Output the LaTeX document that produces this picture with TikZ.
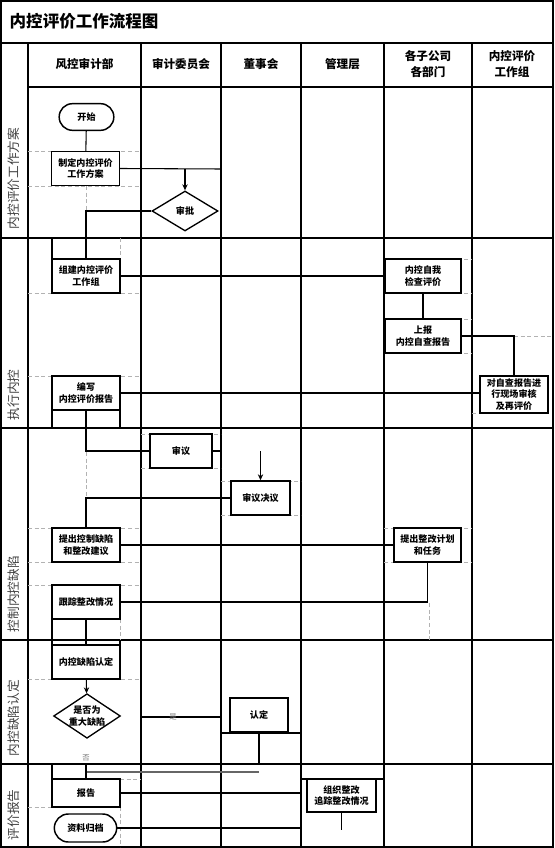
\documentclass[tikz,border=0pt]{standalone}
\usepackage{fontspec}
\newfontfamily\cjk{Noto Sans CJK SC}
\usetikzlibrary{shapes.geometric,shapes.misc,arrows.meta,positioning}
\tikzset{
  pbox/.style={rectangle, draw=black, line width=1.1pt, fill=white,
               minimum width=51pt, minimum height=25.5pt, inner sep=1pt,
               font=\cjk\bfseries\fontsize{6.8}{8.8}\selectfont, align=center},
  pterm/.style={pbox, rounded rectangle, minimum width=43pt, minimum height=20pt},
  pdec/.style={diamond, draw=black, line width=1pt, fill=white, aspect=1.5,
               inner sep=0pt, font=\cjk\bfseries\fontsize{6.8}{8.8}\selectfont, align=center},
  lane/.style={line width=1.1pt},
  link/.style={line width=0.8pt},
  larr/.style={link, -{Stealth[length=4.5pt,width=4pt]}},
  cell/.style={gray!60, line width=0.5pt, dash pattern=on 3pt off 2pt},
  hdr/.style={font=\cjk\bfseries\fontsize{8.7}{12.5}\selectfont, align=center},
  lanelbl/.style={rotate=90, anchor=west, text=black!75,
                  font=\cjk\fontsize{9.5}{10}\selectfont},
  yesno/.style={text=black!55, font=\cjk\fontsize{5.5}{6}\selectfont, inner sep=0pt},
}
\begin{document}
\begin{tikzpicture}[x=0.75pt, y=-0.75pt]
  \useasboundingbox (0,0) rectangle (554,848);

  % frame and swimlanes
  \draw[lane] (1,1) rectangle (553,847);
  \draw[lane] (1,43) -- (553,43);
  \draw[lane] (28,87) -- (553,87);
  \foreach \y in {238,428,640,764} \draw[lane] (1,\y) -- (553,\y);
  \foreach \x in {28,141,221,301,384,472} \draw[lane] (\x,43) -- (\x,847);

  % grey cell lines
  \foreach \xa/\ya/\xb/\yb in {28/151/141/151, 28/186/141/186, 86/186/86/213,
      120/238/120/259, 28/293/141/293, 28/376/141/376,
      384/259/472/259, 384/293/472/293, 384/319/472/319, 384/353/472/353,
      514/336/553/336, 472/413/480/413,
      141/434/221/434, 141/468/221/468, 221/481/301/481, 221/515/301/515,
      86/452/86/498, 28/528/141/528, 28/562/141/562, 384/528/472/528,
      384/562/472/562, 28/585/141/585, 429/603/429/640, 120/619/120/640,
      28/679/141/679, 120/779/141/779, 28/807/52/807, 120/807/120/847}
    \draw[cell] (\xa,\ya) -- (\xb,\yb);
  \foreach \xa/\ya/\xb/\yb in {52/238/52/259, 52/411/52/428, 120/411/120/428,
      52/619/52/645, 120/640/120/645, 221/733/301/733, 52/764/52/779,
      301/779/384/779}
    \draw[link] (\xa,\ya) -- (\xb,\yb);

  % title, headers, lane names
  \node[anchor=west, font=\cjk\bfseries\fontsize{12.4}{14}\selectfont] (title) at (5,21) {内控评价工作流程图};
  \node[hdr] (h1) at (84.5,64) {风控审计部};
  \node[hdr] (h2) at (181,64) {审计委员会};
  \node[hdr] (h3) at (261,64) {董事会};
  \node[hdr] (h4) at (342.5,64) {管理层};
  \node[hdr] (h5) at (428,64) {各子公司\\各部门};
  \node[hdr] (h6) at (512,64) {内控评价\\工作组};

  \node[lanelbl] (l1) at (14,234) {内控评价工作方案};
  \node[lanelbl] (l2) at (14,425) {执行内控};
  \node[lanelbl] (l3) at (14,637) {控制内控缺陷};
  \node[lanelbl] (l4) at (14,761) {内控缺陷认定};
  \node[lanelbl] (l5) at (14,845) {评价报告};

  % steps
  \node[pterm] (start) at (86.5,117) {开始};
  \node[pbox] (zhiding) at (85.5,168.5) {制定内控评价\\工作方案};
  \node[pdec, minimum width=49.5pt, minimum height=30pt] (shenpi) at (185,211) {审批};

  \node[pbox] (zujian) at (86,276) {组建内控评价\\工作组};
  \node[pbox, minimum width=57pt] (zicha) at (423,276) {内控自我\\检查评价};
  \node[pbox, minimum width=57pt] (shangbao) at (423,336) {上报\\内控自查报告};
  \node[pbox, minimum height=27.5pt] (xianchang) at (514,394.5) {对自查报告进\\行现场审核\\及再评价};
  \node[pbox] (bianxie) at (86,393) {编写\\内控评价报告};

  \node[pbox, minimum width=46.5pt] (shenyi) at (181,451) {审议};
  \node[pbox, minimum width=44pt] (jueyi) at (260.5,498) {审议决议};
  \node[pbox] (tichu) at (86,545) {提出控制缺陷\\和整改建议};
  \node[pbox, minimum width=50pt] (jihua) at (427.5,545) {提出整改计划\\和任务};
  \node[pbox] (genzong) at (86,602) {跟踪整改情况};

  \node[pbox] (queding) at (86,662) {内控缺陷认定};
  \node[pdec] (zhongda) at (87,716) {是否为\\重大缺陷};
  \node[pbox, minimum width=43.5pt] (rending) at (259,715) {认定};

  \node[pbox, minimum height=21pt] (baogao) at (86,793) {报告};
  \node[pbox, minimum width=51.75pt, minimum height=24.75pt] (zhenggai) at (341.5,795.5) {组织整改\\追踪整改情况};
  \node[pterm, minimum width=48.75pt, minimum height=21pt] (guidang) at (85.5,828) {资料归档};

  % free ends on the lane lines
  \coordinate (e1) at (221,169);
  \coordinate (e2) at (221,451);
  \coordinate (e3) at (221,717);
  \coordinate (e4) at (86,772);
  \coordinate (e5) at (86,764);
  \coordinate (e6) at (301,793);
  \coordinate (e7) at (301,828);

  % flow
  \draw[link] (start) -- (zhiding);
  \draw[link] (zhiding.east) -- (e1);
  \draw[larr] (shenpi.north |- e1) -- (shenpi.north);
  \draw[link] (shenpi.west) -| (zujian.north);
  \draw[link] (zujian.east) -- (zicha.west);
  \draw[link] (zicha) -- (shangbao);
  \draw[link] (shangbao.east) -| (xianchang.north);
  \draw[link] (bianxie.east) -- (bianxie.east -| xianchang.west);
  \draw[link] (bianxie.south) |- (shenyi.west);
  \draw[link] (shenyi.east) -- (e2);
  \draw[larr] (jueyi.north |- e2) -- (jueyi.north);
  \draw[link] (jueyi.west) -| (tichu.north);
  \draw[link] (tichu.east) -- (jihua.west);
  \draw[link] (jihua.south) |- (genzong.east);
  \draw[link] (genzong) -- (queding);
  \draw[larr] (queding) -- (zhongda);
  \draw[link, shorten <=15pt] (zhongda.east |- e3) -- (e3)
    node[yesno, pos=0.52] {是};
  \node[yesno] (fou) at (86,758) {否};
  \draw[link] (rending.south) -- ++(0,31);
  \draw[link, black!60] (rending.south |- e4) -- (e4);
  \draw[link] (e5) -- (baogao.north);
  \draw[link] (baogao.east) -- (e6);
  \draw[link] (guidang.east) -- (e7);
  \draw[link] (zhenggai.south) -- ++(0,17);
\end{tikzpicture}
\end{document}
